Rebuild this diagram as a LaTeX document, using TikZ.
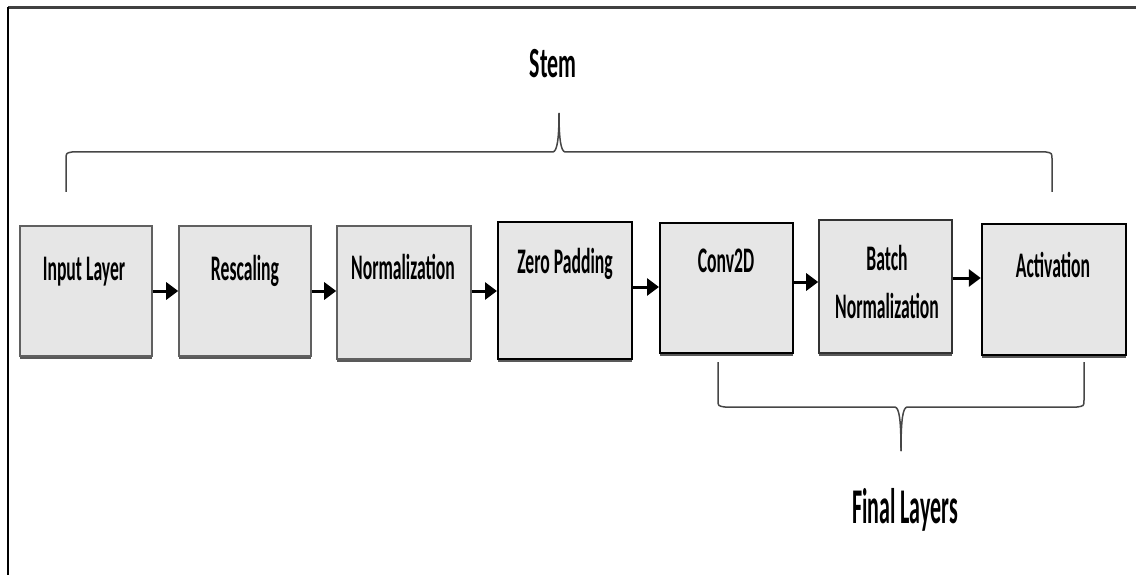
\documentclass[tikz,border=0pt]{standalone}
\usepackage{fontspec}
\setmainfont{Carlito}
\usetikzlibrary{arrows.meta,shadows}
\newcommand{\sq}[1]{\scalebox{0.49}[1]{#1}}
\definecolor{boxfill}{HTML}{E6E6E6}
\begin{document}
\begin{tikzpicture}[x=1pt,y=-1pt,
  lbl/.style={font=\fontsize{36}{48}\selectfont\bfseries, inner sep=0pt, anchor=base},
  bigl/.style={font=\fontsize{44}{50}\selectfont\bfseries, inner sep=0pt, anchor=base},
  layerbox/.style={fill=boxfill, inner sep=0pt,
     drop shadow={shadow xshift=0pt, shadow yshift=-2.5pt, fill=black!65, opacity=1}},
  graybox/.style={layerbox, draw=gray!75!black, line width=1.6pt},
  blackbox/.style={layerbox, draw=black, line width=2pt},
  arr/.style={line width=3pt, -{Triangle[length=12pt,width=17pt]}},
  brace/.style={line width=1.5pt, draw=gray!55!black, line join=round}
]
\useasboundingbox (0,0) rectangle (1136,575);
% frame
\draw[line width=2.5pt, gray!50!black] (8,7.5) -- (1136,7.5);
\draw[line width=1.4pt, black] (8,7.5) -- (8,575);

% boxes
\node[graybox, minimum width=132, minimum height=130] (b1) at (86,291) {};
\node[graybox, minimum width=132, minimum height=130] (b2) at (245,291) {};
\node[graybox, minimum width=134, minimum height=133] (b3) at (404,292.5) {};
\node[blackbox, minimum width=134, minimum height=137] (b4) at (565,290.5) {};
\node[blackbox, minimum width=133, minimum height=130] (b5) at (726.5,288) {};
\node[graybox, draw=gray!40!black, minimum width=133, minimum height=133] (b6) at (885.5,286.5) {};
\node[blackbox, line width=2.4pt, minimum width=144, minimum height=131] (b7) at (1054,289.5) {};

% labels
\node[lbl] (t1) at (84,280) {\sq{Input Layer}};
\node[lbl] (t2) at (245,280) {\sq{Rescaling}};
\node[lbl] (t3) at (403,279.5) {\sq{Normalization}};
\node[lbl] (t4) at (565,273) {\sq{Zero Padding}};
\node[lbl] (t5) at (726,272) {\sq{Conv2D}};
\node[lbl] (t6a) at (887,270.5) {\sq{Batch}};
\node[lbl] (t6b) at (887,318) {\sq{Normalization}};
\node[lbl] (t7) at (1053,277) {\sq{Activation}};

% arrows
\draw[arr] (b1.east) -- (b1.east -| b2.west);
\draw[arr] (b2.east) -- (b2.east -| b3.west);
\draw[arr] ([yshift=1.5]b3.east) -- ([yshift=1.5]b3.east -| b4.west);
\draw[arr] ([yshift=3.5]b4.east) -- ([yshift=3.5]b4.east -| b5.west);
\draw[arr] ([yshift=6]b5.east) -- ([yshift=6]b5.east -| b6.west);
\draw[arr] ([yshift=8.5]b6.east) -- ([yshift=8.5]b6.east -| b7.west);

% stem brace
\coordinate (sl) at (66,192);
\coordinate (sr) at (1052,192);
\coordinate (st) at (559,113);
\draw[brace] (sl) -- (66,160) .. controls (66,153) .. (72,152) -- (553,152)
   .. controls (557,151) and (559,140) .. (st);
\draw[brace] (sr) -- (1052,160) .. controls (1052,153) .. (1046,152) -- (565,152)
   .. controls (561,151) and (559,140) .. (st);
\node[bigl, font=\fontsize{43}{50}\selectfont\bfseries] (stem) at (553,78) {\scalebox{0.51}[1]{Stem}};

% final layers brace
\coordinate (fl) at (718,362);
\coordinate (fr) at (1084,362);
\coordinate (ft) at (901,451);
\draw[brace] (fl) -- (718,400) .. controls (718,406) .. (725,407) -- (895,407)
   .. controls (899,408) and (901,418) .. (ft);
\draw[brace] (fr) -- (1084,400) .. controls (1084,406) .. (1077,407) -- (907,407)
   .. controls (903,408) and (901,418) .. (ft);
\node[bigl, font=\fontsize{50}{56}\selectfont\bfseries] (final) at (905,523) {\scalebox{0.44}[1]{Final Layers}};
\end{tikzpicture}
\end{document}
